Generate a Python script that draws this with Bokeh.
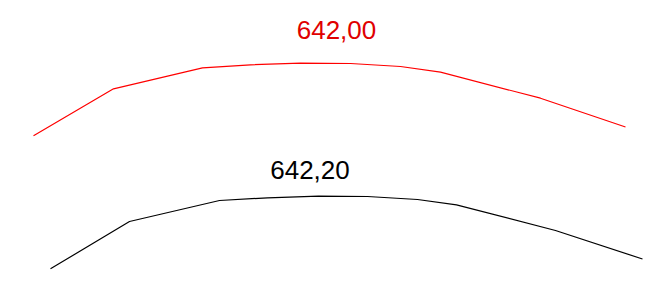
from bokeh.plotting import figure
from bokeh.models import Range1d
from bokeh.core.properties import value
from bokeh.embed import file_html
from bokeh.resources import INLINE

# Profile lines (horizontal position, vertical position; y grows downward)
red_x = [33, 113, 202, 250, 300, 350, 400, 440, 540, 625]
red_y = [135.3, 88.3, 67.3, 64.3, 62.7, 63.0, 66.0, 71.7, 97.7, 126.5]
black_x = [50, 129, 219, 267, 318, 367, 417, 456, 555, 642]
black_y = [268.3, 221.0, 200.0, 197.3, 195.7, 196.0, 199.0, 204.3, 230.0, 258.5]

labels = ["642,00", "642,20"]
label_x = [336, 309.5]
label_y = [29.0, 169.5]
label_colors = ["#e00000", "black"]

p = figure(width=651, height=282, output_backend="svg", toolbar_location=None,
           x_range=Range1d(0, 651), y_range=Range1d(282, 0),
           min_border=0, outline_line_color=None)
p.axis.visible = False
p.grid.visible = False
p.background_fill_color = "white"
p.border_fill_color = "white"

p.line(red_x, red_y, line_color="#ff0000", line_width=1.2)
p.line(black_x, black_y, line_color="black", line_width=1.2)

p.text(x=label_x, y=label_y, text=labels, text_color=label_colors,
       text_font=value("Liberation Sans"), text_font_size="26px",
       text_align="center", text_baseline="alphabetic")

open("out.html", "w").write(file_html(p, INLINE))
